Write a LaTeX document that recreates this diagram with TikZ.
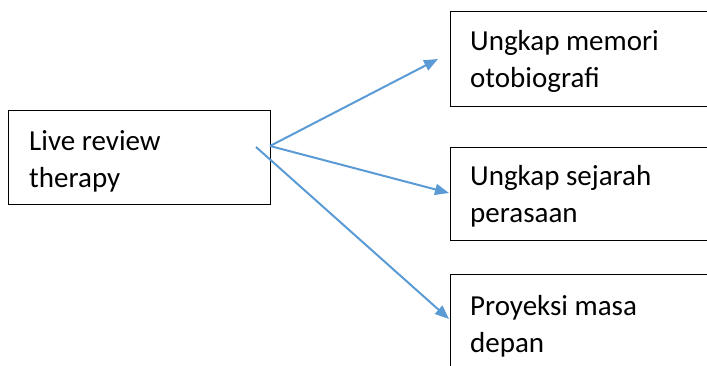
\documentclass[tikz,border=0pt]{standalone}
\usepackage{fontspec}
\setmainfont{Carlito}
\usetikzlibrary{arrows.meta}
\definecolor{arrowblue}{HTML}{5B9BD5}
\tikzset{
  boxnode/.style={draw=black, line width=1.3pt, inner sep=0pt, anchor=south west},
  txt/.style={anchor=base west, inner sep=0pt, font=\fontsize{29}{35}\selectfont},
  conn/.style={draw=arrowblue, line width=2pt, -{Triangle[length=14pt,width=11pt]}}
}
\begin{document}
\begin{tikzpicture}[x=1pt,y=1pt]
\useasboundingbox (0,0) rectangle (707,366);
% boxes
\node[boxnode, minimum width=262pt, minimum height=94pt] (L) at (8,161) {};
\node[boxnode, minimum width=280pt, minimum height=95pt] (T) at (450,259) {};
\node[boxnode, minimum width=280pt, minimum height=93pt] (M) at (450,125) {};
\node[boxnode, minimum width=280pt, minimum height=110pt] (B) at (450,-19) {};
% texts
\node[txt] (l1) at (29,215.3) {Live review};
\node[txt] (l2) at (29,178) {therapy};
\node[txt] (t1) at (470,315.3) {Ungkap memori};
\node[txt] (t2) at (470,278) {otobiografi};
\node[txt] (m1) at (470,180.3) {Ungkap sejarah};
\node[txt] (m2) at (470,143) {perasaan};
\node[txt] (b1) at (470,50.3) {Proyeksi masa};
\node[txt] (b2) at (470,13) {depan};
% connectors
\coordinate (o1) at (270,220);
\coordinate (o3) at (256,219);
\coordinate (e1) at (438,307);
\coordinate (e2) at (449,173);
\coordinate (e3) at (449,47);
\draw[conn] (o1) -- (e1);
\draw[conn] (o1) -- (e2);
\draw[conn] (o3) -- (e3);
\end{tikzpicture}
\end{document}
